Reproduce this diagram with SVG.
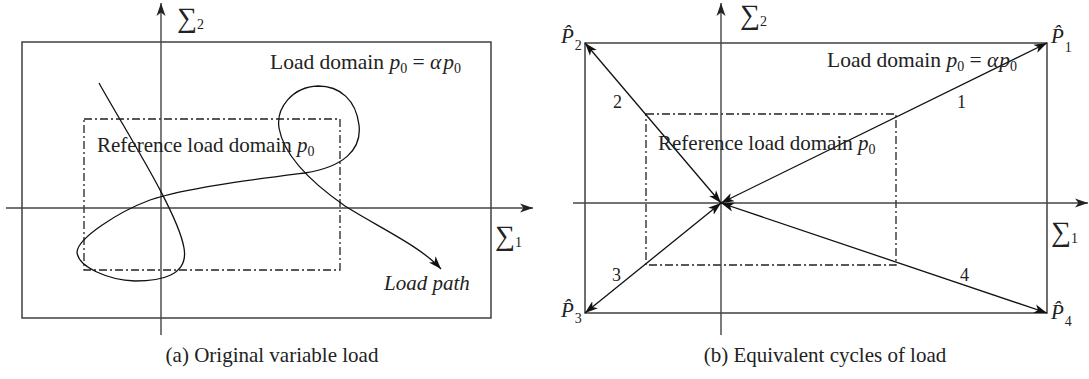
<svg xmlns="http://www.w3.org/2000/svg" width="1089" height="379" viewBox="0 0 1089 379">
<style>
.frame{fill:none;stroke:#333;stroke-width:1.4}
.axis{fill:none;stroke:#444;stroke-width:1.4}
.dd{fill:none;stroke:#222;stroke-width:1.3;stroke-dasharray:8 3 2 3}
.ln{fill:none;stroke:#111;stroke-width:1.3}
.t{font-family:"Liberation Serif",serif;font-size:21px;fill:#222}
.ld{font-size:21.5px}
.cap{font-family:"Liberation Serif",serif;font-size:21px;fill:#222}
.num{font-family:"Liberation Serif",serif;font-size:18px;fill:#222}
.it{font-style:italic}
.sub{font-size:14px;font-style:normal}
.sig{font-size:28px}
</style>
<defs>
<marker id="ah" markerUnits="userSpaceOnUse" markerWidth="14" markerHeight="10" refX="13" refY="5" orient="auto-start-reverse">
<path d="M0,0.5 L13,5 L0,9.5 L3.5,5 z" fill="#111"/>
</marker>
<marker id="ax" markerUnits="userSpaceOnUse" markerWidth="14" markerHeight="10" refX="13" refY="5" orient="auto">
<path d="M0,0.5 L13,5 L0,9.5 L3.5,5 z" fill="#222"/>
</marker>
</defs>

<!-- Panel (a) -->
<g id="panel-a">
<g id="a-frame"><rect class="frame" x="22" y="42" width="469" height="276"/></g>
<g id="a-refdomain"><rect class="dd" x="84" y="119" width="256" height="151"/></g>
<g id="a-axes">
<line class="axis" x1="161" y1="335" x2="161" y2="3" marker-end="url(#ax)"/>
<line class="axis" x1="6" y1="208" x2="533" y2="208" marker-end="url(#ax)"/>
</g>
<g id="a-loadpath">
<path class="ln" d="M99,83 C125,130 178,212 184,248 C189,276 160,281 135,281 C108,280 78,267 77,252 C78,238 118,212 150,200 C185,188 250,180 305,173 C343,167 362,150 359,125 C356,100 340,86 318,86 C292,87 276,108 279,128 C284,157 312,183 345,206 C380,228 420,246 441,269" marker-end="url(#ah)"/>
</g>
<g id="a-labels">
<text class="t" x="177" y="27"><tspan class="sig">∑</tspan><tspan class="sub" dy="2">2</tspan></text>
<text class="t" x="495" y="245"><tspan class="sig">∑</tspan><tspan class="sub" dy="2">1</tspan></text>
<text class="t ld" x="270" y="69">Load domain <tspan class="it">p</tspan><tspan class="sub" dy="4">0</tspan><tspan dy="-4"> = </tspan><tspan class="it">α</tspan><tspan class="it" dx="2">p</tspan><tspan class="sub" dy="4">0</tspan></text>
<text class="t" x="97" y="152">Reference load domain <tspan class="it">p</tspan><tspan class="sub" dy="4">0</tspan></text>
<text class="t it" x="384" y="290">Load path</text>
<text class="cap" x="272" y="362" text-anchor="middle">(a) Original variable load</text>
</g>
</g>

<!-- Panel (b) -->
<g id="panel-b">
<g id="b-frame"><rect class="frame" x="585" y="43" width="462" height="270"/></g>
<g id="b-refdomain"><rect class="dd" x="646" y="114" width="250" height="151"/></g>
<g id="b-axes">
<line class="axis" x1="721" y1="335" x2="721" y2="3" marker-end="url(#ax)"/>
<line class="axis" x1="573" y1="203" x2="1088" y2="203" marker-end="url(#ax)"/>
</g>
<g id="connectors">
<line class="ln" x1="721" y1="203" x2="1047" y2="43" marker-start="url(#ah)" marker-end="url(#ah)"/>
<line class="ln" x1="721" y1="203" x2="585" y2="43" marker-start="url(#ah)" marker-end="url(#ah)"/>
<line class="ln" x1="721" y1="203" x2="585" y2="313" marker-start="url(#ah)" marker-end="url(#ah)"/>
<line class="ln" x1="721" y1="203" x2="1047" y2="313" marker-start="url(#ah)" marker-end="url(#ah)"/>
</g>
<g id="b-labels">
<text class="t" x="740" y="24"><tspan class="sig">∑</tspan><tspan class="sub" dy="2">2</tspan></text>
<text class="t" x="1051" y="241"><tspan class="sig">∑</tspan><tspan class="sub" dy="2">1</tspan></text>
<text class="t ld" x="827" y="67">Load domain <tspan class="it">p</tspan><tspan class="sub" dy="4">0</tspan><tspan dy="-4"> = </tspan><tspan class="it">α</tspan><tspan class="it" dx="1">p</tspan><tspan class="sub" dy="4">0</tspan></text>
<text class="t" x="658" y="150">Reference load domain <tspan class="it">p</tspan><tspan class="sub" dy="4">0</tspan></text>
<text class="num" x="613" y="108">2</text>
<text class="num" x="957" y="108">1</text>
<text class="num" x="612" y="281">3</text>
<text class="num" x="960" y="281">4</text>
<text class="cap" x="825" y="362" text-anchor="middle">(b) Equivalent cycles of load</text>
</g>
<g id="node-P2"><text class="t" x="561" y="43"><tspan class="it">P̂</tspan><tspan class="sub" dx="1" dy="7">2</tspan></text></g>
<g id="node-P1"><text class="t" x="1051" y="43"><tspan class="it">P̂</tspan><tspan class="sub" dx="1" dy="9">1</tspan></text></g>
<g id="node-P3"><text class="t" x="561" y="317"><tspan class="it">P̂</tspan><tspan class="sub" dx="1" dy="6">3</tspan></text></g>
<g id="node-P4"><text class="t" x="1051" y="319"><tspan class="it">P̂</tspan><tspan class="sub" dx="1" dy="7">4</tspan></text></g>
</g>
</svg>
